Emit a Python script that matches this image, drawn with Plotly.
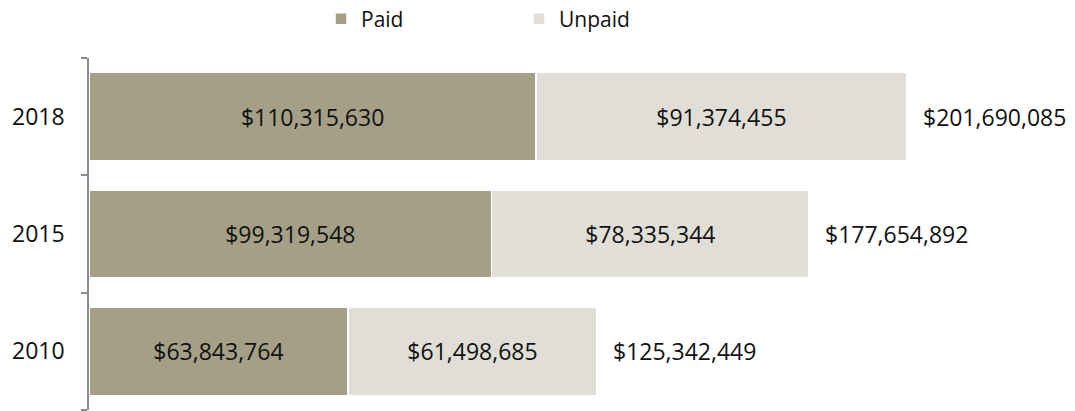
import plotly.graph_objects as go

years = ["2010", "2015", "2018"]
paid = [63843764, 99319548, 110315630]
unpaid = [61498685, 78335344, 91374455]
totals = [125342449, 177654892, 201690085]

FONT = "Open Sans"
paid_color = "#A59F87"
unpaid_color = "#E0DED6"
TOP, BOTTOM, LEFT, RIGHT = 58, 1, 89, 20
PLOT_H = 411 - TOP - BOTTOM

fig = go.Figure()
fig.add_trace(go.Bar(
    y=years, x=paid, orientation="h", name="Paid",
    marker=dict(color=paid_color, line=dict(color="white", width=1.5)),
    text=[f"${v:,}" for v in paid], textposition="inside",
    insidetextanchor="middle", textangle=0,
    textfont=dict(family=FONT, size=23, color="#111111"),
    hoverinfo="skip",
))
fig.add_trace(go.Bar(
    y=years, x=unpaid, orientation="h", name="Unpaid",
    marker=dict(color=unpaid_color, line=dict(color="white", width=1.5)),
    text=[f"${v:,}" for v in unpaid], textposition="inside",
    insidetextanchor="middle", textangle=0,
    textfont=dict(family=FONT, size=23, color="#111111"),
    hoverinfo="skip",
))

for i, t in enumerate(totals):
    fig.add_annotation(
        x=t, y=i, xref="x", yref="y", text=f"${t:,}", showarrow=False,
        xanchor="left", xshift=14,
        font=dict(family=FONT, size=23, color="#111111"),
    )

fig.update_layout(
    width=1075, height=411,
    barmode="stack", bargap=0.25,
    plot_bgcolor="white", paper_bgcolor="white",
    margin=dict(l=LEFT, r=RIGHT, t=TOP, b=BOTTOM, autoexpand=False),
    font=dict(family=FONT, size=22, color="#111111"),
    showlegend=True,
    legend=dict(
        orientation="h", xref="paper", yref="paper",
        x=(321 - LEFT) / (1075 - LEFT - RIGHT), y=1 + (TOP - 19) / PLOT_H,
        xanchor="left", yanchor="middle",
        entrywidth=153, entrywidthmode="pixels",
        traceorder="normal",
        font=dict(family=FONT, size=21, color="#111111"),
        bgcolor="rgba(0,0,0,0)",
    ),
    uniformtext=dict(mode="show", minsize=10),
)
fig.update_xaxes(
    range=[0, 238.3e6], showgrid=False, zeroline=False,
    showticklabels=False, showline=False, ticks="",
)
fig.update_yaxes(
    type="category", categoryorder="array", categoryarray=years,
    range=[-0.5, 2.5], autorange=False, automargin=False,
    showgrid=False, zeroline=False,
    showline=True, linecolor="#8C8C8C", linewidth=1.5,
    ticks="outside", ticklen=6, tickcolor="#8C8C8C", tickwidth=1.5,
    tickson="boundaries",
    tickfont=dict(family=FONT, size=23, color="#111111"),
    ticklabelstandoff=18,
)

fig.write_html(
    "out.html",
    config={"displayModeBar": False},
    post_script="document.body.style.margin='0';document.body.style.overflow='hidden';",
)
